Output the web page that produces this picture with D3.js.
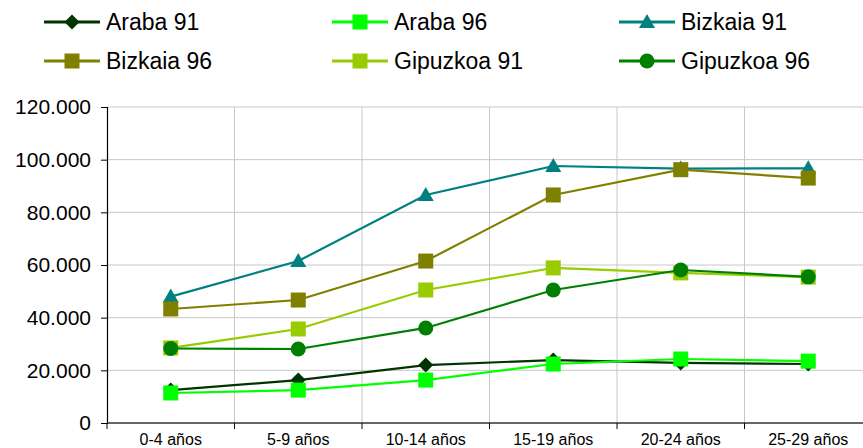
<!DOCTYPE html>
<html>
<head>
<meta charset="utf-8">
<script src="https://cdn.jsdelivr.net/npm/d3@7"></script>
<style>
  body { margin: 0; background: #fff; }
  svg { display: block; font-family: "Liberation Sans", Arial, sans-serif; }
</style>
</head>
<body>
<div id="chart"></div>
<script>
// age groups on the x axis
const categories = ["0-4 años", "5-9 años", "10-14 años", "15-19 años", "20-24 años", "25-29 años"];
const yTicks = [0, 20000, 40000, 60000, 80000, 100000, 120000];

// values
const araba91    = [12500, 16300, 22000, 23900, 22800, 22400];
const araba96    = [11400, 12500, 16300, 22400, 24300, 23500];
const bizkaia91  = [48000, 61500, 86600, 97600, 96600, 96700];
const bizkaia96  = [43300, 46700, 61500, 86600, 96200, 93000];
const gipuzkoa91 = [28500, 35700, 50500, 58900, 57000, 55400];
const gipuzkoa96 = [28300, 28100, 36100, 50500, 58100, 55500];

const seriesNames = ["Araba 91", "Araba 96", "Bizkaia 91", "Bizkaia 96", "Gipuzkoa 91", "Gipuzkoa 96"];
const seriesValues = [araba91, araba96, bizkaia91, bizkaia96, gipuzkoa91, gipuzkoa96];
const seriesColors = ["#003300", "#00ff00", "#008080", "#808000", "#99cc00", "#008000"];
const seriesShapes = ["diamond", "square", "triangle", "square", "square", "circle"];

const width = 863, height = 448;
const margin = {left: 107, top: 107, bottom: 25};

const svg = d3.select("#chart").append("svg")
    .attr("width", width)
    .attr("height", height);

// the plot area runs slightly past the right edge of the picture
const xScale = d3.scaleBand()
    .domain(categories)
    .range([margin.left, 872])
    .padding(0);

const yScale = d3.scaleLinear()
    .domain([0, 120000])
    .range([height - margin.bottom, margin.top]);

const cx = d => xScale(d) + xScale.bandwidth() / 2;

// horizontal gridlines
svg.append("g")
  .selectAll("line")
  .data(yTicks.slice(1))
  .join("line")
    .attr("x1", margin.left)
    .attr("x2", width)
    .attr("y1", d => yScale(d))
    .attr("y2", d => yScale(d))
    .attr("stroke", "#c8c8c8")
    .attr("stroke-width", 1);

// vertical gridlines at category boundaries
svg.append("g")
  .selectAll("line")
  .data(categories.slice(1))
  .join("line")
    .attr("x1", d => xScale(d))
    .attr("x2", d => xScale(d))
    .attr("y1", margin.top)
    .attr("y2", yScale(0))
    .attr("stroke", "#c8c8c8")
    .attr("stroke-width", 1);

// y axis
const yAxis = d3.axisLeft(yScale)
    .tickValues(yTicks)
    .tickSize(6)
    .tickFormat(d => d === 0 ? "0" : d3.format(",")(d).replace(/,/g, "."));
const gY = svg.append("g")
    .attr("transform", `translate(${margin.left},0)`)
    .call(yAxis);
gY.select(".domain").attr("stroke", "#000").attr("stroke-width", 1.2);
gY.selectAll(".tick line").attr("stroke", "#000");
gY.selectAll("text")
    .attr("x", -16)
    .style("font-size", "21px")
    .attr("fill", "#000");

// x axis
const gX = svg.append("g")
    .attr("transform", `translate(0,${yScale(0)})`);
gX.append("line")
    .attr("x1", margin.left).attr("x2", width)
    .attr("stroke", "#333").attr("stroke-width", 1.5);
gX.selectAll(".xtick")
  .data(categories)
  .join("line")
    .attr("class", "xtick")
    .attr("x1", d => xScale(d)).attr("x2", d => xScale(d))
    .attr("y1", 0).attr("y2", 6)
    .attr("stroke", "#000");
gX.selectAll(".xlabel")
  .data(categories)
  .join("text")
    .attr("class", "xlabel")
    .attr("x", d => cx(d))
    .attr("y", 22)
    .attr("text-anchor", "middle")
    .style("font-size", "16px")
    .attr("fill", "#000")
    .text(d => d);

function marker(g, shape, color, x, y) {
  if (shape === "circle") {
    g.append("circle").attr("cx", x).attr("cy", y).attr("r", 7.5).attr("fill", color);
  } else if (shape === "square") {
    g.append("rect").attr("x", x - 7.5).attr("y", y - 7.5).attr("width", 15).attr("height", 15).attr("fill", color);
  } else if (shape === "diamond") {
    g.append("path").attr("d", `M${x},${y - 7.5}L${x + 7.5},${y}L${x},${y + 7.5}L${x - 7.5},${y}Z`).attr("fill", color);
  } else {
    g.append("path").attr("d", `M${x},${y - 8}L${x + 8},${y + 6}L${x - 8},${y + 6}Z`).attr("fill", color);
  }
}

const line = d3.line()
    .x((d, i) => cx(categories[i]))
    .y(d => yScale(d));

const plot = svg.append("g");
seriesValues.forEach((vals, s) => {
  const g = plot.append("g");
  g.append("path")
      .attr("d", line(vals))
      .attr("fill", "none")
      .attr("stroke", seriesColors[s])
      .attr("stroke-width", 2.2);
  vals.forEach((v, i) => marker(g, seriesShapes[s], seriesColors[s], cx(categories[i]), yScale(v)));
});

// legend: 3 columns, 2 rows
const legendX = [44, 332, 619];
const legendY = [22, 61];
const legend = svg.append("g");
seriesNames.forEach((name, s) => {
  const x = legendX[s % 3], y = legendY[Math.floor(s / 3)];
  const g = legend.append("g");
  g.append("line")
      .attr("x1", x).attr("x2", x + 56)
      .attr("y1", y).attr("y2", y)
      .attr("stroke", seriesColors[s])
      .attr("stroke-width", 3);
  marker(g, seriesShapes[s], seriesColors[s], x + 28, y);
  g.append("text")
      .attr("x", x + 62)
      .attr("y", y + 8)
      .style("font-size", "23px")
      .attr("fill", "#000")
      .text(name);
});
</script>
</body>
</html>
